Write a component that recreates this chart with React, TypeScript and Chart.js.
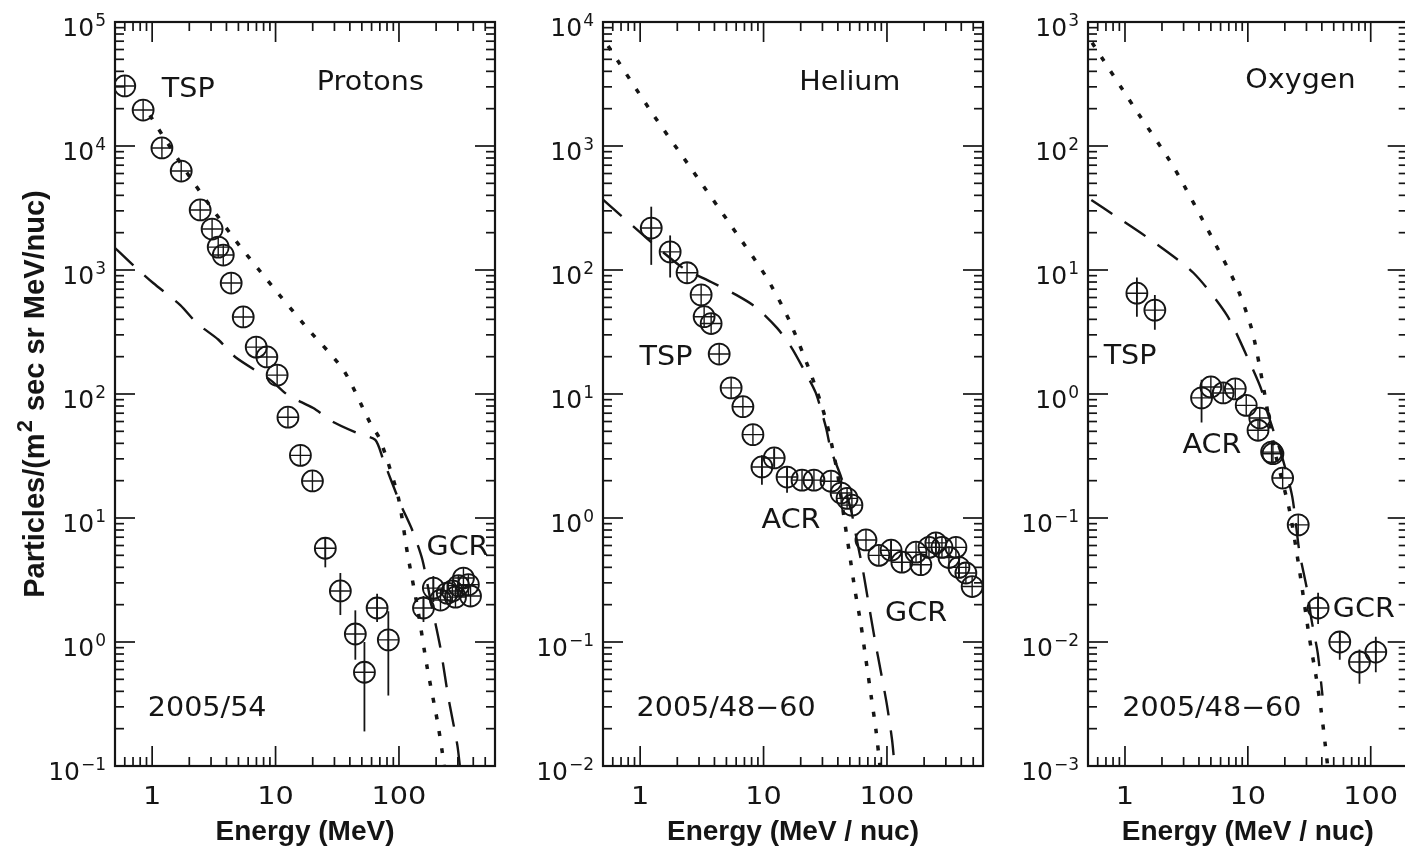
import React, { useEffect, useRef } from 'react';
import { Chart, registerables } from 'chart.js';

Chart.register(...registerables);

// ===================== Protons, 2005/54 =====================
const protonEnergy = [0.6, 0.845, 1.2, 1.72, 2.45, 3.06, 3.43, 3.77, 4.37, 5.47, 6.97, 8.5, 10.3, 12.6, 15.9, 19.9, 25.3, 33.5, 44.3, 52.5, 66.5, 82, 158, 190, 217, 246, 271, 287, 304, 333, 365, 380];
const protonFlux = [30500, 19500, 9640, 6280, 3050, 2140, 1530, 1320, 785, 418, 239, 199, 142, 65, 32, 19.9, 5.7, 2.58, 1.16, 0.57, 1.88, 1.04, 1.88, 2.72, 2.18, 2.48, 2.58, 2.3, 2.85, 3.28, 2.9, 2.35];
const protonErrEnergy = [25.3, 33.5, 44.3, 52.5, 66.5, 82, 158, 190, 304];
const protonErrLow = [4.0, 1.65, 0.72, 0.19, 1.45, 0.37, 1.45, 2.1, 2.3];
const protonErrHigh = [7.0, 3.6, 1.8, 1.0, 2.45, 1.77, 2.35, 3.4, 3.4];
const protonDottedEnergy = [0.96, 1.1, 2.15, 4.71, 8.56, 18.0, 35.5, 58.5, 70.5, 98.5, 117, 141, 169, 204, 225, 237];
const protonDottedFlux = [17700, 14200, 5130, 1745, 830, 340, 156, 58.3, 42.6, 14.8, 5.22, 1.92, 0.628, 0.235, 0.127, 0.085];
const protonDashedEnergy = [0.501, 0.728, 1.02, 1.69, 2.32, 3.43, 4.71, 9.05, 12.6, 20.2, 29.3, 46.0, 64.3, 74.6, 102, 128, 155, 180, 216, 251, 297, 314];
const protonDashedFlux = [1503, 1056, 785, 522, 370, 275, 199, 130, 98, 77, 59.5, 48.4, 42.6, 29.4, 13.2, 8.0, 4.58, 2.18, 0.912, 0.36, 0.148, 0.093];
const protonLabelText = ['TSP', 'Protons', 'GCR', '2005/54'];
const protonLabelEnergy = [1.96, 58.6, 298, 2.79];
const protonLabelFlux = [29400, 34000, 6.05, 0.3];

// ===================== Helium, 2005/48-60 =====================
const heliumEnergy = [1.23, 1.75, 2.4, 3.12, 3.3, 3.76, 4.37, 5.46, 6.8, 8.2, 9.7, 12.2, 15.5, 20.5, 25.6, 35.2, 42.5, 47.5, 52, 67.6, 86, 108, 132, 172, 188, 219, 249, 279, 318, 362, 383, 436, 490];
const heliumFlux = [218, 140, 95, 63, 42, 37, 21, 11.2, 7.9, 4.7, 2.58, 3.05, 2.14, 2.02, 2.02, 1.98, 1.59, 1.44, 1.27, 0.665, 0.5, 0.55, 0.44, 0.53, 0.42, 0.58, 0.63, 0.58, 0.48, 0.58, 0.4, 0.36, 0.28];
const heliumErrEnergy = [1.23, 1.75, 9.7, 15.5, 12.2, 108, 132, 188, 249, 383];
const heliumErrLow = [110, 87, 1.85, 1.6, 2.6, 0.45, 0.37, 0.35, 0.53, 0.33];
const heliumErrHigh = [324, 190, 3.2, 2.6, 3.6, 0.66, 0.53, 0.5, 0.75, 0.48];
const heliumDottedEnergy = [0.55, 1.25, 2.64, 5.56, 10.5, 16.1, 24.7, 32.0, 39.3, 44.8, 49.2, 55.0, 61.6, 67.6, 74.2, 81.4, 87.8, 92.6];
const heliumDottedFlux = [6400, 1845, 640, 222, 88, 39.5, 13.7, 6.17, 2.44, 1.02, 0.552, 0.263, 0.137, 0.0716, 0.0374, 0.0195, 0.01, 0.0064];
const heliumDashedEnergy = [0.5, 1.12, 2.19, 3.76, 6.0, 8.7, 12.9, 16.7, 21.3, 26.5, 32, 35.2, 42.5, 51.1, 57, 63.8, 71.3, 79.8, 89.4, 100, 110, 116];
const heliumDashedFlux = [370, 182, 105, 80, 63, 50, 34, 24, 15.6, 10.2, 5.4, 3.53, 2.14, 1.16, 0.665, 0.381, 0.199, 0.104, 0.057, 0.031, 0.0162, 0.0093];
const heliumLabelText = ['Helium', 'TSP', 'ACR', 'GCR', '2005/48\u221260'];
const heliumLabelEnergy = [50, 1.62, 16.7, 172, 4.97];
const heliumLabelFlux = [3400, 20.6, 1.0, 0.175, 0.03];

// ===================== Oxygen, 2005/48-60 =====================
const oxygenEnergy = [1.25, 1.75, 4.2, 5.0, 6.3, 7.9, 9.7, 12.1, 12.5, 15.6, 16, 19.2, 25.7, 37.3, 56, 81, 110];
const oxygenFlux = [6.5, 4.75, 0.93, 1.14, 1.02, 1.1, 0.81, 0.51, 0.64, 0.34, 0.33, 0.21, 0.088, 0.0188, 0.01, 0.0069, 0.0083];
const oxygenErrEnergy = [1.25, 1.75, 4.2, 37.3, 56, 81, 110];
const oxygenErrLow = [4.2, 3.3, 0.59, 0.014, 0.0072, 0.0046, 0.0057];
const oxygenErrHigh = [8.7, 6.3, 1.3, 0.025, 0.0118, 0.0087, 0.011];
const oxygenDottedEnergy = [0.54, 1.18, 2.48, 5.22, 8.14, 10.8, 13.2, 16.5, 21.8, 26.3, 31.6, 36, 39.5, 42.5, 45];
const oxygenDottedFlux = [680, 207, 68, 17.5, 7.3, 3.28, 1.23, 0.353, 0.116, 0.038, 0.011, 0.0052, 0.0028, 0.00153, 0.00093];
const oxygenDashedEnergy = [0.532, 0.815, 1.62, 3.6, 6.77, 10.4, 12.9, 14.5, 19.2, 23, 26.3, 30, 33, 37, 40.5];
const oxygenDashedFlux = [36.7, 27.7, 17.5, 9.5, 4.3, 1.78, 1.08, 0.7, 0.3, 0.148, 0.053, 0.028, 0.015, 0.0082, 0.0037];
const oxygenLabelText = ['Oxygen', 'TSP', 'ACR', 'GCR', '2005/48\u221260'];
const oxygenLabelEnergy = [26.8, 1.1, 5.1, 87.8, 5.1];
const oxygenLabelFlux = [353, 2.1, 0.4, 0.019, 0.003];

// ===================== Axis ticks =====================
const xTickValues = [1, 10, 100];
const xTickLabels = ['1', '10', '100'];
const yTitleMain = 'Particles/(m';
const yTitleSup = '2';
const yTitleRest = ' sec sr MeV/nuc)';

// ===================== Layout / style =====================
const INK = '#151515';
const CANVAS_W = 1420;
const CANVAS_H = 846;
const TICK_FONT = '25px "DejaVu Sans"';
const XTICK_FONT = '25px "DejaVu Sans"';
const SUP_FONT = '17px "DejaVu Sans"';
const LABEL_FONT = '26px "DejaVu Sans"';
const TITLE_FONT = 'bold 28px "Liberation Sans"';
const YTITLE_FONT = 'bold 29px "Liberation Sans"';
const YTITLE_SUP_FONT = 'bold 22px "Liberation Sans"';

type PanelSpec = {
  key: string;
  area: { left: number; right: number; top: number; bottom: number };
  xMin: number;
  xMax: number;
  yMinExp: number;
  yMaxExp: number;
  energy: number[];
  flux: number[];
  errEnergy: number[];
  errLow: number[];
  errHigh: number[];
  dottedE: number[];
  dottedJ: number[];
  dashedE: number[];
  dashedJ: number[];
  labelText: string[];
  labelE: number[];
  labelJ: number[];
  xTitle: string;
  yTitle: boolean;
};

const panels: PanelSpec[] = [
  {
    key: 'protons',
    area: { left: 115, right: 495, top: 22, bottom: 766 },
    xMin: 0.5, xMax: 600, yMinExp: -1, yMaxExp: 5,
    energy: protonEnergy, flux: protonFlux,
    errEnergy: protonErrEnergy, errLow: protonErrLow, errHigh: protonErrHigh,
    dottedE: protonDottedEnergy, dottedJ: protonDottedFlux,
    dashedE: protonDashedEnergy, dashedJ: protonDashedFlux,
    labelText: protonLabelText, labelE: protonLabelEnergy, labelJ: protonLabelFlux,
    xTitle: 'Energy (MeV)', yTitle: true,
  },
  {
    key: 'helium',
    area: { left: 603, right: 983, top: 22, bottom: 766 },
    xMin: 0.5, xMax: 600, yMinExp: -2, yMaxExp: 4,
    energy: heliumEnergy, flux: heliumFlux,
    errEnergy: heliumErrEnergy, errLow: heliumErrLow, errHigh: heliumErrHigh,
    dottedE: heliumDottedEnergy, dottedJ: heliumDottedFlux,
    dashedE: heliumDashedEnergy, dashedJ: heliumDashedFlux,
    labelText: heliumLabelText, labelE: heliumLabelEnergy, labelJ: heliumLabelFlux,
    xTitle: 'Energy (MeV / nuc)', yTitle: false,
  },
  {
    key: 'oxygen',
    area: { left: 1088, right: 1408, top: 22, bottom: 766 },
    xMin: 0.5, xMax: 200, yMinExp: -3, yMaxExp: 3,
    energy: oxygenEnergy, flux: oxygenFlux,
    errEnergy: oxygenErrEnergy, errLow: oxygenErrLow, errHigh: oxygenErrHigh,
    dottedE: oxygenDottedEnergy, dottedJ: oxygenDottedFlux,
    dashedE: oxygenDashedEnergy, dashedJ: oxygenDashedFlux,
    labelText: oxygenLabelText, labelE: oxygenLabelEnergy, labelJ: oxygenLabelFlux,
    xTitle: 'Energy (MeV / nuc)', yTitle: false,
  },
];

function toPoints(xs: number[], ys: number[]) {
  return xs.map((x, i) => ({ x, y: ys[i] }));
}

function stretchedText(ctx: CanvasRenderingContext2D, text: string, x: number, y: number, sx: number) {
  ctx.save();
  ctx.translate(x, y);
  ctx.scale(sx, 1);
  ctx.textAlign = 'center';
  ctx.textBaseline = 'alphabetic';
  ctx.fillText(text, 0, 0);
  ctx.restore();
}

function decorPlugin(p: PanelSpec) {
  return {
    id: 'decor_' + p.key,
    afterDatasetsDraw(chart: any) {
      const ctx: CanvasRenderingContext2D = chart.ctx;
      const xs = chart.scales.x;
      const ys = chart.scales.y;
      const { left, right, top, bottom } = chart.chartArea;

      // error bars
      ctx.save();
      ctx.beginPath();
      ctx.rect(left, top, right - left, bottom - top);
      ctx.clip();
      ctx.strokeStyle = INK;
      ctx.lineWidth = 1.8;
      p.errEnergy.forEach((e, i) => {
        const px = xs.getPixelForValue(e);
        ctx.beginPath();
        ctx.moveTo(px, ys.getPixelForValue(p.errLow[i]));
        ctx.lineTo(px, ys.getPixelForValue(p.errHigh[i]));
        ctx.stroke();
      });
      ctx.restore();

      ctx.save();
      ctx.strokeStyle = INK;
      ctx.fillStyle = INK;
      // frame
      ctx.lineWidth = 2.2;
      ctx.strokeRect(left, top, right - left, bottom - top);

      const seg = (x1: number, y1: number, x2: number, y2: number) => {
        ctx.beginPath();
        ctx.moveTo(x1, y1);
        ctx.lineTo(x2, y2);
        ctx.stroke();
      };
      // inward ticks, x
      ctx.lineWidth = 1.7;
      const dx0 = Math.floor(Math.log10(p.xMin));
      const dx1 = Math.ceil(Math.log10(p.xMax));
      for (let d = dx0; d <= dx1; d++) {
        for (let m = 1; m < 10; m++) {
          const v = m * Math.pow(10, d);
          if (v < p.xMin * 0.999 || v > p.xMax * 1.001) continue;
          const px = xs.getPixelForValue(v);
          const len = m === 1 ? 20 : 9;
          seg(px, top, px, top + len);
          seg(px, bottom, px, bottom - len);
        }
      }
      // inward ticks, y
      for (let d = p.yMinExp; d <= p.yMaxExp; d++) {
        for (let m = 1; m < 10; m++) {
          if (d === p.yMaxExp && m > 1) continue;
          const v = m * Math.pow(10, d);
          const py = ys.getPixelForValue(v);
          const len = m === 1 ? 20 : 9;
          seg(left, py, left + len, py);
          seg(right, py, right - len, py);
        }
      }

      // y tick labels: 10^n
      for (let d = p.yMinExp; d <= p.yMaxExp; d++) {
        const py = ys.getPixelForValue(Math.pow(10, d));
        const sup = d < 0 ? '\u2212' + String(-d) : String(d);
        ctx.font = SUP_FONT;
        const supW = ctx.measureText(sup).width;
        ctx.font = TICK_FONT;
        const baseW = ctx.measureText('10').width;
        const xEnd = left - 9;
        ctx.textAlign = 'left';
        ctx.textBaseline = 'alphabetic';
        ctx.fillText('10', xEnd - supW - baseW - 1, py + 14);
        ctx.font = SUP_FONT;
        ctx.fillText(sup, xEnd - supW, py + 4);
      }

      // x tick labels
      ctx.font = XTICK_FONT;
      xTickValues.forEach((v, i) => {
        if (v < p.xMin || v > p.xMax) return;
        const px = xs.getPixelForValue(v);
        stretchedText(ctx, xTickLabels[i], px, 804, 1.15);
      });

      // x title
      ctx.font = TITLE_FONT;
      stretchedText(ctx, p.xTitle, (left + right) / 2, 840, 1.0);

      // annotations
      ctx.font = LABEL_FONT;
      p.labelText.forEach((t, i) => {
        const px = xs.getPixelForValue(p.labelE[i]);
        const py = ys.getPixelForValue(p.labelJ[i]);
        stretchedText(ctx, t, px, py + 9.5, 1.1);
      });

      // y title
      if (p.yTitle) {
        ctx.save();
        ctx.translate(33, (top + bottom) / 2);
        ctx.rotate(-Math.PI / 2);
        ctx.textAlign = 'left';
        ctx.textBaseline = 'alphabetic';
        ctx.font = YTITLE_FONT;
        const w1 = ctx.measureText(yTitleMain).width;
        const w3 = ctx.measureText(yTitleRest).width;
        ctx.font = YTITLE_SUP_FONT;
        const w2 = ctx.measureText(yTitleSup).width;
        const total = w1 + w2 + 2 + w3;
        let x = -total / 2;
        ctx.font = YTITLE_FONT;
        ctx.fillText(yTitleMain, x, 10.5);
        x += w1 + 1;
        ctx.font = YTITLE_SUP_FONT;
        ctx.fillText(yTitleSup, x, -1);
        x += w2 + 1;
        ctx.font = YTITLE_FONT;
        ctx.fillText(yTitleRest, x, 10.5);
        ctx.restore();
      }
      ctx.restore();
    },
  };
}

function Panel({ spec }: { spec: PanelSpec }) {
  const ref = useRef<HTMLCanvasElement>(null);
  useEffect(() => {
    if (!ref.current) return;
    const markerPts = toPoints(spec.energy, spec.flux);
    const chart = new Chart(ref.current, {
      type: 'scatter',
      data: {
        datasets: [
          {
            data: markerPts,
            pointStyle: 'circle',
            pointRadius: 10.5,
            pointBorderWidth: 1.8,
            pointBorderColor: INK,
            pointBackgroundColor: 'rgba(0,0,0,0)',
            showLine: false,
            order: 0,
          } as any,
          {
            data: markerPts,
            pointStyle: 'cross',
            pointRadius: 10.5,
            pointBorderWidth: 1.4,
            pointBorderColor: INK,
            showLine: false,
            order: 0,
          } as any,
          {
            data: toPoints(spec.dottedE, spec.dottedJ),
            showLine: true,
            pointRadius: 0,
            borderColor: INK,
            borderWidth: 3.5,
            borderDash: [5, 12],
            tension: 0.25,
            order: 1,
          } as any,
          {
            data: toPoints(spec.dashedE, spec.dashedJ),
            showLine: true,
            pointRadius: 0,
            borderColor: INK,
            borderWidth: 2.4,
            borderDash: [25, 15],
            tension: 0.25,
            order: 1,
          } as any,
        ],
      },
      options: {
        animation: false,
        responsive: false,
        maintainAspectRatio: false,
        devicePixelRatio: 1,
        events: [],
        layout: {
          padding: {
            left: spec.area.left,
            right: CANVAS_W - spec.area.right,
            top: spec.area.top,
            bottom: CANVAS_H - spec.area.bottom,
          },
        },
        scales: {
          x: { type: 'logarithmic', min: spec.xMin, max: spec.xMax, display: false },
          y: { type: 'logarithmic', min: Math.pow(10, spec.yMinExp), max: Math.pow(10, spec.yMaxExp), display: false },
        },
        plugins: {
          legend: { display: false },
          tooltip: { enabled: false },
        },
      },
      plugins: [decorPlugin(spec)],
    });
    return () => chart.destroy();
  }, [spec]);
  return (
    <canvas
      ref={ref}
      width={CANVAS_W}
      height={CANVAS_H}
      style={{ position: 'absolute', left: 0, top: 0, width: CANVAS_W, height: CANVAS_H }}
    />
  );
}

export default function App() {
  return (
    <div
      style={{
        position: 'fixed',
        left: 0,
        top: 0,
        width: 1405,
        height: 846,
        overflow: 'hidden',
        background: '#ffffff',
      }}
    >
      {panels.map((p) => (
        <Panel key={p.key} spec={p} />
      ))}
    </div>
  );
}
